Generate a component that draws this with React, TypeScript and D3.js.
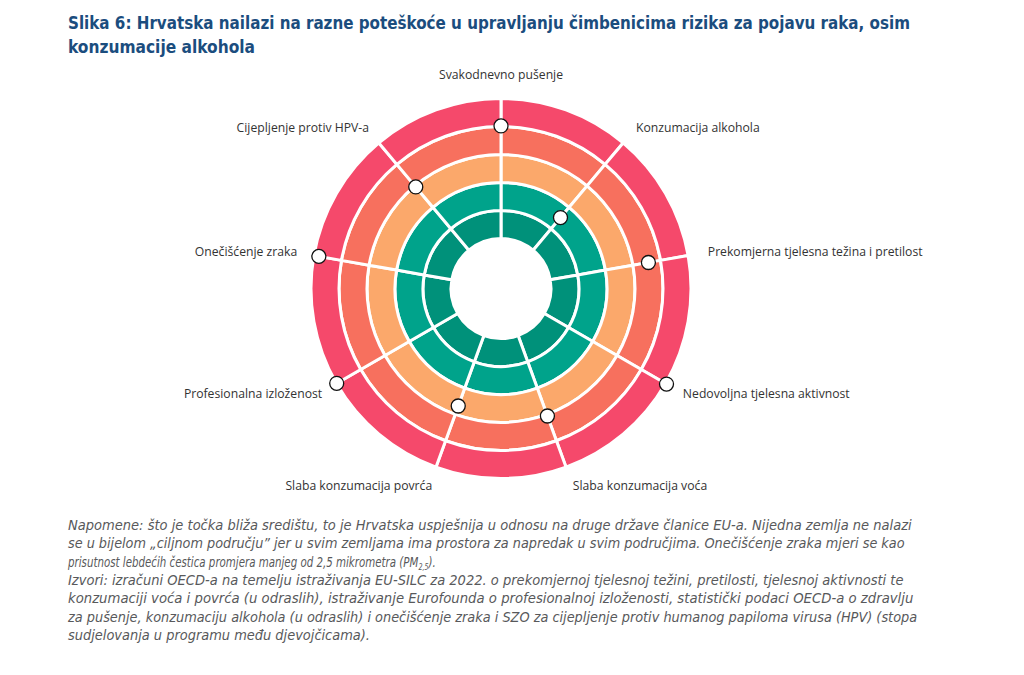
import React, { useLayoutEffect, useRef, useState } from "react";
import * as d3 from "d3";

const categories = [
  "Svakodnevno pušenje",
  "Konzumacija alkohola",
  "Prekomjerna tjelesna težina i pretilost",
  "Nedovoljna tjelesna aktivnost",
  "Slaba konzumacija voća",
  "Slaba konzumacija povrća",
  "Profesionalna izloženost",
  "Onečišćenje zraka",
  "Cijepljenje protiv HPV-a",
];

// distance from target centre, in ring units (0 = white target, 5 = outer edge)
const values = [4.02, 1.52, 3.56, 5.04, 3.06, 2.68, 4.99, 4.82, 2.95];

const ringColors = ["#00917a", "#00a38b", "#fba86b", "#f7705e", "#f5496b"];

const titleLines = [
  "Slika 6: Hrvatska nailazi na razne poteškoće u upravljanju čimbenicima rizika za pojavu raka, osim",
  "konzumacije alkohola",
];

const noteLines = [
  "Napomene: što je točka bliža središtu, to je Hrvatska uspješnija u odnosu na druge države članice EU-a. Nijedna zemlja ne nalazi",
  "se u bijelom „ciljnom području” jer u svim zemljama ima prostora za napredak u svim područjima. Onečišćenje zraka mjeri se kao",
  "prisutnost lebdećih čestica promjera manjeg od 2,5 mikrometra (PM|2,5|).",
  "Izvori: izračuni OECD-a na temelju istraživanja EU-SILC za 2022. o prekomjernoj tjelesnoj težini, pretilosti, tjelesnoj aktivnosti te",
  "konzumaciji voća i povrća (u odraslih), istraživanje Eurofounda o profesionalnoj izloženosti, statistički podaci OECD-a o zdravlju",
  "za pušenje, konzumaciju alkohola (u odraslih) i onečišćenje zraka i SZO za cijepljenje protiv humanog papiloma virusa (HPV) (stopa",
  "sudjelovanja u programu među djevojčicama).",
];

const W = 1024;
const H = 675;
const cx = 501;
const cy = 288.5;
const nRings = ringColors.length;
const noteX = 68;
const noteWidths = [844, 837, 368, 836, 845, 850, 302];

export default function App() {
  const r = d3.scaleLinear().domain([0, nRings]).range([50, 190]);
  const n = categories.length;
  const ang = d3
    .scaleLinear()
    .domain([0, n])
    .range([0, 2 * Math.PI]);
  const arc = d3.arc<any>();

  const noteRefs = useRef<(SVGTextElement | null)[]>([]);
  const [scales, setScales] = useState<number[]>(noteLines.map(() => 0.89));

  useLayoutEffect(() => {
    const s = noteRefs.current.map((el, i) => {
      if (!el) return 0.89;
      const w = el.getComputedTextLength();
      return w > 0 ? noteWidths[i] / w : 0.89;
    });
    setScales(s);
  }, []);

  const cells: any[] = [];
  ringColors.forEach((c, i) => {
    categories.forEach((_, j) => {
      cells.push({
        d: arc({
          innerRadius: r(i),
          outerRadius: r(i + 1),
          startAngle: ang(j),
          endAngle: ang(j + 1),
        }),
        fill: c,
        key: `${i}-${j}`,
      });
    });
  });

  const noteFont =
    "'Liberation Sans Narrow', 'DejaVu Sans Condensed', 'Open Sans', sans-serif";

  return (
    <div style={{ position: "fixed", left: 0, top: 0, width: W, height: H, background: "#fff" }}>
      <svg width={W} height={H} viewBox={`0 0 ${W} ${H}`}>
        <rect width={W} height={H} fill="#fff" />
        {titleLines.map((t, i) => (
          <text
            key={i}
            x={68}
            y={29 + i * 24}
            fontFamily={noteFont}
            fontWeight={700}
            fontSize={18}
            fill="#1b4d7e"
            textLength={i === 0 ? 842 : 187}
            lengthAdjust="spacingAndGlyphs"
          >
            {t}
          </text>
        ))}
        <g transform={`translate(${cx},${cy})`}>
          {cells.map((c) => (
            <path key={c.key} d={c.d} fill={c.fill} stroke="#fff" strokeWidth={3} />
          ))}
          {categories.map((cat, j) => {
            const a = ang(j);
            const rl = 210;
            const sin = Math.sin(a);
            const dx = sin < -0.01 ? 3 : 0;
            const x = rl * sin + dx;
            const y = -rl * Math.cos(a);
            const anchor = Math.abs(sin) < 0.01 ? "middle" : sin > 0 ? "start" : "end";
            return (
              <text
                key={cat}
                x={x}
                y={y}
                dy={j === 0 ? "0" : "0.35em"}
                textAnchor={anchor}
                fontFamily="'Open Sans', sans-serif"
                fontSize={12.2}
                fill="#333"
              >
                {cat}
              </text>
            );
          })}
          {values.map((v, j) => {
            const a = ang(j);
            return (
              <circle
                key={j}
                cx={r(v) * Math.sin(a)}
                cy={-r(v) * Math.cos(a)}
                r={7}
                fill="#fff"
                stroke="#111"
                strokeWidth={1.3}
              />
            );
          })}
        </g>
        {noteLines.map((t, i) => {
          const parts = t.split("|");
          const y = 530 + i * 18.3;
          return (
            <g key={i} transform={`translate(${noteX},${y}) scale(${scales[i]},1)`}>
              <text
                ref={(el) => {
                  noteRefs.current[i] = el;
                }}
                x={0}
                y={0}
                fontFamily={noteFont}
                fontStyle="italic"
                fontSize={14.5}
                fill="#58595b"
              >
                {parts.length === 1 ? (
                  t
                ) : (
                  <>
                    {parts[0]}
                    <tspan fontSize={9} dy={3}>
                      {parts[1]}
                    </tspan>
                    <tspan dy={-3}>{parts[2]}</tspan>
                  </>
                )}
              </text>
            </g>
          );
        })}
      </svg>
    </div>
  );
}
